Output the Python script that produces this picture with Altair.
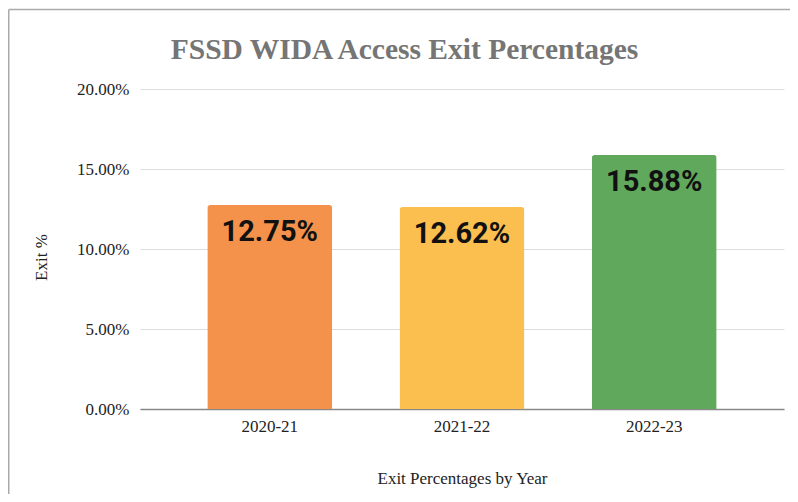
import altair as alt
import pandas as pd

years = ["2020-21", "2021-22", "2022-23"]
exit_pct = [12.75, 12.62, 15.88]
bar_colors = ["#F4914A", "#FBBF4F", "#60A85B"]
y_ticks = [0, 0.05, 0.10, 0.15, 0.20]
title_text = "FSSD WIDA Access Exit Percentages"

df = pd.DataFrame({"year": years, "exit": [v / 100 for v in exit_pct]})

serif = "Liberation Serif"

x_enc = alt.X(
    "year:N",
    sort=years,
    scale=alt.Scale(paddingInner=0.35, paddingOuter=0.35),
    axis=alt.Axis(
        title="Exit Percentages by Year",
        labelAngle=0,
        labelFont=serif,
        labelFontSize=17,
        labelColor="#222222",
        labelPadding=9,
        ticks=False,
        domainColor="#888888",
        domainWidth=1.5,
        grid=False,
        titleFont=serif,
        titleFontSize=17,
        titleFontWeight="normal",
        titleColor="#222222",
        titleY=74,
        titleBaseline="alphabetic",
    ),
)
y_enc = alt.Y(
    "exit:Q",
    scale=alt.Scale(domain=[0, 0.2]),
    axis=alt.Axis(
        title="Exit %",
        values=y_ticks,
        format=".2%",
        labelFont=serif,
        labelFontSize=17,
        labelColor="#222222",
        labelPadding=11,
        ticks=False,
        domain=False,
        gridColor="#dddddd",
        gridWidth=1.2,
        titleFont=serif,
        titleFontSize=17,
        titleFontWeight="normal",
        titleColor="#222222",
        titleX=-99,
        titleY=168,
        titleAngle=-90,
        titleAlign="center",
        titleBaseline="middle",
    ),
)

bars = alt.Chart(df).mark_bar(cornerRadiusTopLeft=3, cornerRadiusTopRight=3).encode(
    x=x_enc,
    y=y_enc,
    color=alt.Color("year:N", scale=alt.Scale(domain=years, range=bar_colors), legend=None),
)

labels = alt.Chart(df).mark_text(
    font="Roboto", fontWeight="bold", fontSize=29, color="#111111",
    baseline="alphabetic", dy=36,
).encode(
    x=alt.X("year:N", sort=years),
    y=alt.Y("exit:Q"),
    text=alt.Text("exit:Q", format=".2%"),
)

single = alt.Data(values=[{"t": title_text}])
title_mark = alt.Chart(single).mark_text(
    font=serif, fontSize=29.5, fontWeight="bold", color="#757575",
    align="center", baseline="alphabetic",
).encode(
    x=alt.value(264.5), y=alt.value(-30.5), text="t:N"
)
top_line = alt.Chart(single).mark_rule(color="#aaaaaa", strokeWidth=1.5).encode(
    x=alt.value(-131.25), x2=alt.value(650), y=alt.value(-79.5)
)
left_line = alt.Chart(single).mark_rule(color="#aaaaaa", strokeWidth=1.5).encode(
    x=alt.value(-131.25), y=alt.value(-79.5), y2=alt.value(405)
)

chart = alt.layer(bars, labels, title_mark, top_line, left_line).properties(
    width=644,
    height=320,
    background="white",
    autosize=alt.AutoSizeParams(type="none"),
    padding={"left": 132, "top": 81, "right": 6, "bottom": 85},
).configure_view(stroke="transparent", strokeWidth=0)

chart.save("out.html", embed_options={"renderer": "svg", "actions": False})
